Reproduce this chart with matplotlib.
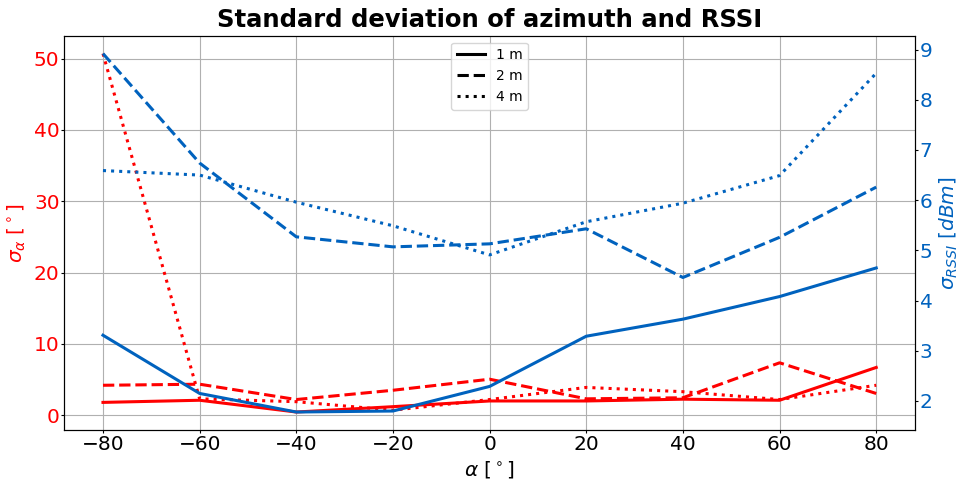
import numpy as np
import matplotlib
matplotlib.use("Agg")
import matplotlib.pyplot as plt
from matplotlib.lines import Line2D

angles = [-80, -60, -40, -20, 0, 20, 40, 60, 80]

# std of azimuth [deg]
az_1m = [1.8, 2.1, 0.45, 1.2, 2.0, 2.0, 2.25, 2.1, 6.7]
az_2m = [4.2, 4.35, 2.2, 3.5, 5.05, 2.3, 2.45, 7.35, 3.05]
az_4m = [50.7, 2.3, 1.9, 0.7, 2.2, 3.9, 3.3, 2.2, 4.2]

# std of RSSI [dBm]
rssi_1m = [3.31, 2.15, 1.78, 1.80, 2.29, 3.29, 3.63, 4.08, 4.65]
rssi_2m = [8.92, 6.74, 5.27, 5.07, 5.13, 5.43, 4.46, 5.26, 6.26]
rssi_4m = [6.59, 6.50, 5.96, 5.49, 4.91, 5.57, 5.94, 6.49, 8.53]

dist_labels = ['1 m', '2 m', '4 m']
styles = ['-', '--', ':']

red = 'red'
blue = '#0062be'

fig, ax1 = plt.subplots(figsize=(9.6, 4.82), dpi=100)
ax2 = ax1.twinx()

for vals, ls in zip([az_1m, az_2m, az_4m], styles):
    ax1.plot(angles, vals, color=red, linestyle=ls, linewidth=2.2)
for vals, ls in zip([rssi_1m, rssi_2m, rssi_4m], styles):
    ax2.plot(angles, vals, color=blue, linestyle=ls, linewidth=2.2)

ax1.grid(True, color='#b0b0b0', linewidth=0.8)
ax1.set_xticks(angles)
ax1.tick_params(axis='both', labelsize=14.5, length=2.2, pad=1.2)
ax1.tick_params(axis='y', labelcolor=red)
ax2.tick_params(axis='y', labelsize=14.5, labelcolor=blue, length=2.2, pad=1.2)
ax2.set_yticks([2, 3, 4, 5, 6, 7, 8, 9])

ax1.set_xlabel(r'$\alpha$ [$^\circ$]', fontsize=14.5)
ax1.set_ylabel(r'$\sigma_\alpha$ [$^\circ$]', fontsize=14.5, color=red)
ax2.set_ylabel(r'$\sigma_{RSSI}$ $[dBm]$', fontsize=14.5, color=blue)
ax1.set_title('Standard deviation of azimuth and RSSI', fontsize=17.5, fontweight='bold')

handles = [Line2D([0], [0], color='black', linestyle=ls, linewidth=2.2) for ls in styles]
ax1.legend(handles, dist_labels, loc='upper center', fontsize=10)

plt.subplots_adjust(left=0.067, right=0.953, bottom=0.108, top=0.926)
plt.savefig('out.png')
